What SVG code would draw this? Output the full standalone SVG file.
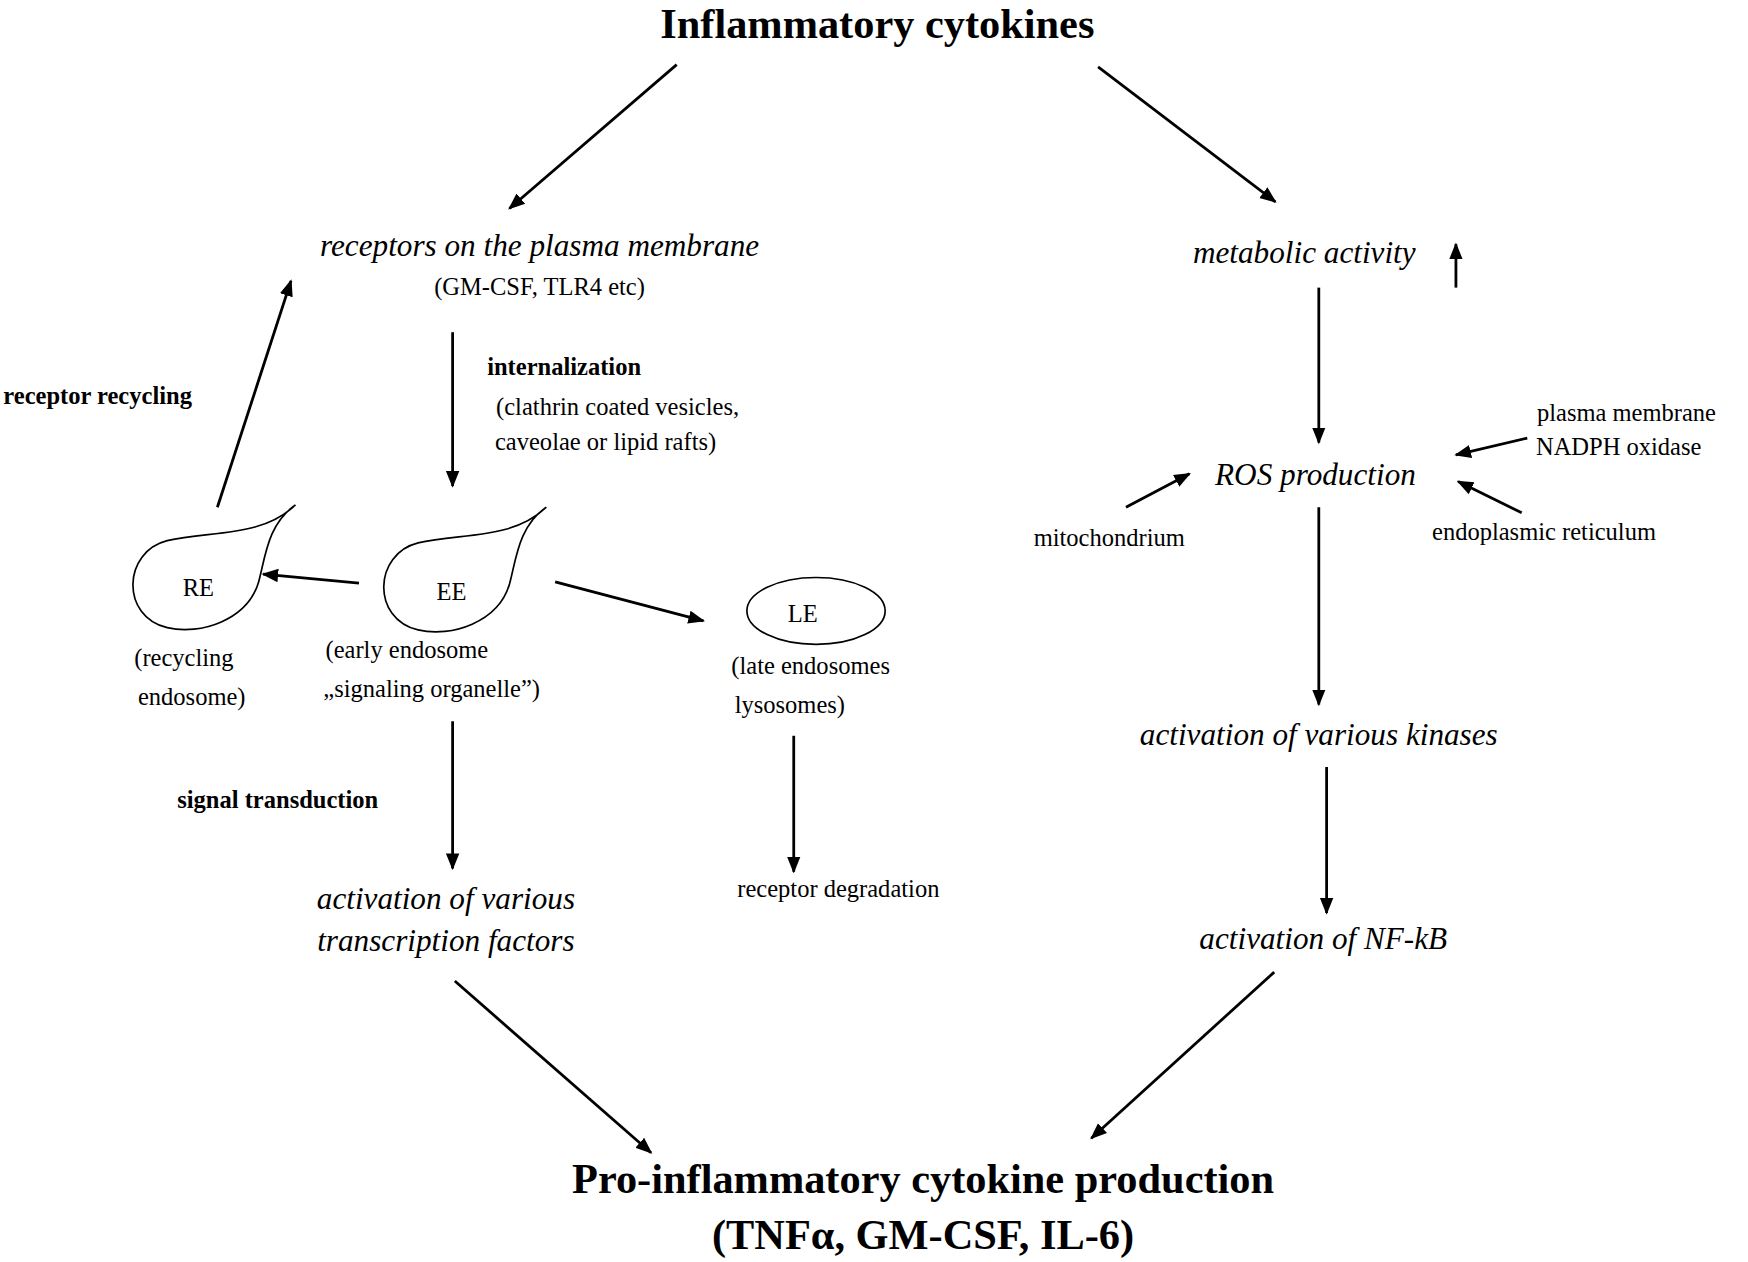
<svg xmlns="http://www.w3.org/2000/svg" width="1748" height="1262" viewBox="0 0 1748 1262">
<style>
text{font-family:"Liberation Serif","Times New Roman",serif;fill:#000}
.t{font-size:28px;font-style:italic}
.s{font-size:22px}
.b{font-size:22px;font-weight:bold}
.h{font-size:38px;font-weight:bold}
.c{text-anchor:middle}
line{stroke:#000;stroke-width:2.5;marker-end:url(#a)}
.shape{fill:#fff;stroke:#000;stroke-width:1.5}
</style>
<defs><marker id="a" viewBox="0 0 10 10" refX="9" refY="5" markerWidth="6" markerHeight="6" orient="auto" markerUnits="strokeWidth"><path d="M0,1 L10,5 L0,9 z" fill="#000"/></marker></defs>
<rect width="1748" height="1262" fill="#fff"/>
<g transform="scale(1.1148)">
<g id="connectors">
<line x1="607" y1="58" x2="457" y2="187"/>
<line x1="985" y1="60" x2="1144" y2="181"/>
<line x1="1306" y1="258" x2="1306" y2="219"/>
<line x1="1183" y1="258" x2="1183" y2="397"/>
<line x1="1370" y1="393" x2="1306" y2="408"/>
<line x1="1010" y1="455" x2="1067" y2="425"/>
<line x1="1365" y1="460" x2="1308" y2="432"/>
<line x1="1183" y1="455" x2="1183" y2="632"/>
<line x1="1190" y1="688" x2="1190" y2="819"/>
<line x1="1143" y1="872" x2="979" y2="1021"/>
<line x1="406" y1="298" x2="406" y2="436"/>
<line x1="195" y1="455" x2="261" y2="252"/>
<line x1="322" y1="523" x2="236" y2="515"/>
<line x1="498" y1="522" x2="631" y2="557"/>
<line x1="406" y1="647" x2="406" y2="779"/>
<line x1="712" y1="660" x2="712" y2="782"/>
<line x1="408" y1="880" x2="584" y2="1034"/>
</g>
<g id="title"><text class="h c" x="787" y="34" font-size="35">Inflammatory cytokines</text></g>
<g id="receptors"><text class="t c" x="484" y="230">receptors  on the plasma membrane</text><text class="s c" x="484" y="265">(GM-CSF, TLR4 etc)</text></g>
<g id="metabolic"><text class="t c" x="1170" y="236">metabolic activity</text></g>
<g id="ros"><text class="t c" x="1180" y="435">ROS production</text></g>
<g id="nadph"><text class="s c" x="1459" y="378">plasma membrane</text><text class="s c" x="1452" y="408">NADPH oxidase</text></g>
<g id="mito"><text class="s c" x="995" y="490">mitochondrium</text></g>
<g id="er"><text class="s c" x="1385" y="484">endoplasmic reticulum</text></g>
<g id="kinases"><text class="t c" x="1183" y="668">activation of various kinases</text></g>
<g id="nfkb"><text class="t c" x="1187" y="851">activation of NF-kB</text></g>
<g id="internalization"><text class="b" x="437" y="336">internalization</text><text class="s" x="445" y="372">(clathrin  coated vesicles,</text><text class="s" x="444" y="404">caveolae  or  lipid  rafts)</text></g>
<g id="recycling"><text class="b" x="3" y="362">receptor recycling</text></g>
<g id="RE"><path class="shape" d="M265 453 C240 470 238 500 232 522 C222 556 180 570 150 563 C108 553 110 495 150 485 C190 476 235 482 265 453 Z"/><text class="s c" x="178" y="535" font-size="25">RE</text><text class="s c" x="165" y="597">(recycling</text><text class="s c" x="172" y="632">endosome)</text></g>
<g id="EE"><path class="shape" d="M490 455 C465 472 463 502 457 524 C447 558 405 572 375 565 C333 555 335 497 375 487 C415 478 460 484 490 455 Z"/><text class="s c" x="405" y="538" font-size="25">EE</text><text class="s" x="292" y="590">(early endosome</text><text class="s" x="290" y="625">„signaling  organelle”)</text></g>
<g id="LE"><ellipse class="shape" cx="732" cy="548" rx="62" ry="30"/><text class="s c" x="720" y="558">LE</text><text class="s" x="656" y="605">(late endosomes</text><text class="s" x="659" y="640">lysosomes)</text></g>
<g id="signal"><text class="b" x="159" y="725">signal transduction</text></g>
<g id="tf"><text class="t c" x="400" y="815">activation of various</text><text class="t c" x="400" y="853">transcription factors</text></g>
<g id="degradation"><text class="s c" x="752" y="805">receptor  degradation</text></g>
<g id="production"><text class="h c" x="828" y="1070">Pro-inflammatory cytokine production</text><text class="h c" x="828" y="1120">(TNFα, GM-CSF, IL-6)</text></g>
</g>
</svg>
